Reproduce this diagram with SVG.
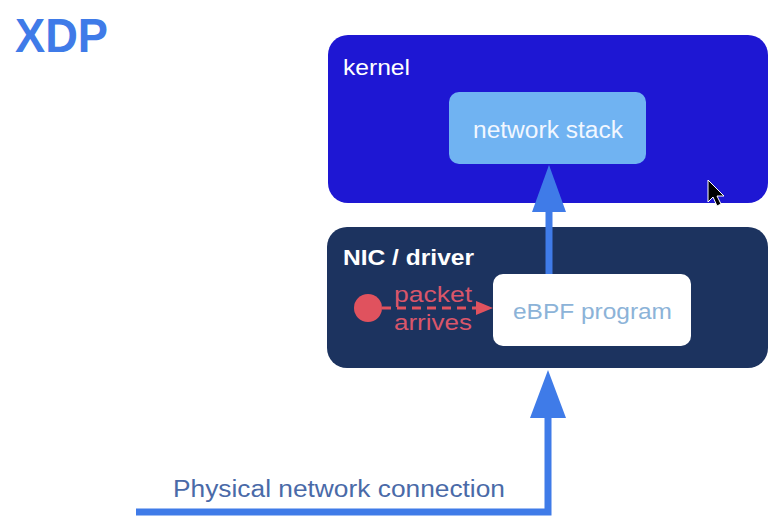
<svg xmlns="http://www.w3.org/2000/svg" width="780" height="526" viewBox="0 0 780 526">
<defs>
<style>
text{font-family:"Liberation Sans",Arial,sans-serif}
.lbl{fill:#ffffff;font-size:22px}
.conn{fill:none;stroke:#3f7be8;stroke-width:7}
.head{fill:#3f7be8}
.red{fill:#d9566a;font-size:22px}
</style>
</defs>
<rect width="780" height="526" fill="#ffffff"/>
<text x="15" y="52" font-size="49" font-weight="bold" fill="#3f7be8" textLength="93" lengthAdjust="spacingAndGlyphs">XDP</text>
<g id="kernel">
<rect x="328" y="35" width="440" height="168" rx="20" fill="#1e17d3"/>
<text x="343" y="75" class="lbl" textLength="67" lengthAdjust="spacingAndGlyphs">kernel</text>
</g>
<g id="network-stack">
<rect x="449" y="92" width="197" height="72" rx="10" fill="#70b3f2"/>
<text x="473" y="138" font-size="23" fill="#f2f7ff" textLength="150" lengthAdjust="spacingAndGlyphs">network stack</text>
</g>
<g id="nic">
<rect x="327" y="227" width="441" height="141" rx="20" fill="#1c335f"/>
<text x="343" y="265" class="lbl" font-size="21" font-weight="bold" textLength="131" lengthAdjust="spacingAndGlyphs">NIC / driver</text>
</g>
<g id="ebpf">
<rect x="493" y="274" width="198" height="72" rx="10" fill="#ffffff"/>
<text x="513" y="319" font-size="22" fill="#8cb3d8" textLength="159" lengthAdjust="spacingAndGlyphs">eBPF program</text>
</g>
<g id="packet">
<circle cx="368" cy="308" r="14" fill="#e0525e"/>
<text x="394" y="302" class="red" textLength="78" lengthAdjust="spacingAndGlyphs">packet</text>
<text x="394" y="330" class="red" textLength="78" lengthAdjust="spacingAndGlyphs">arrives</text>
</g>
<g id="connectors">
<line x1="382" y1="308" x2="478" y2="308" stroke="#e0525e" stroke-width="3" stroke-dasharray="9,6"/>
<polygon points="493,308 476,301 476,315" fill="#e0525e"/>
<line x1="549" y1="274" x2="549" y2="205" class="conn"/>
<polygon points="549,165 532,212 566,212" class="head"/>
<polyline points="136,512 548,512 548,410" class="conn"/>
<polygon points="548,370 530,418 566,418" class="head"/>
<text x="173" y="497" font-size="23" fill="#4a6aa8" textLength="332" lengthAdjust="spacingAndGlyphs">Physical network connection</text>
</g>
<polygon points="708,180 708,202 713,197 717,206 721,204 717,196 724,196" fill="#000000" stroke="#ffffff" stroke-width="1"/>
</svg>
